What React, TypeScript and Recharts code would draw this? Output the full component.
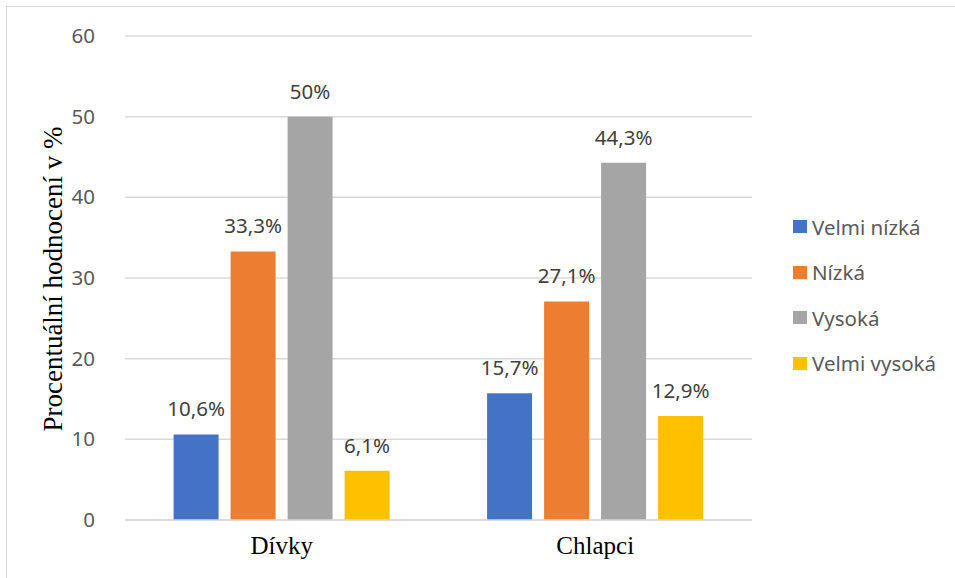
import React from 'react';
import { BarChart, Bar, XAxis, YAxis, CartesianGrid, LabelList } from 'recharts';

const groups = ['Dívky', 'Chlapci'];
const levels = ['Velmi nízká', 'Nízká', 'Vysoká', 'Velmi vysoká'];
const colors = ['#4472c4', '#ed7d31', '#a5a5a5', '#ffc000'];
const velmiNizka = [10.6, 15.7];
const nizka = [33.3, 27.1];
const vysoka = [50, 44.3];
const velmiVysoka = [6.1, 12.9];
const yTicks = [0, 10, 20, 30, 40, 50, 60];

const seriesValues = [velmiNizka, nizka, vysoka, velmiVysoka];
const data = groups.map((g, i) => {
  const row: Record<string, string | number> = { group: g };
  levels.forEach((l, j) => {
    row[l] = seriesValues[j][i];
  });
  return row;
});

const sans = '"Noto Sans", "Open Sans", sans-serif';
const serif = '"Liberation Serif", "DejaVu Serif", serif';

const fmt = (v: number) => String(v).replace('.', ',') + '%';

const YTick = (props: any) => {
  const { x, y, payload } = props;
  return (
    <text x={x - 22} y={y} dy={7} textAnchor="end" fill="#595959" fontSize={20.5} fontFamily={sans}>
      {payload.value}
    </text>
  );
};

const XTick = (props: any) => {
  const { x, y, payload } = props;
  return (
    <text x={x} y={y} dy={26} textAnchor="middle" fill="#000" fontSize={25} fontFamily={serif}>
      {payload.value}
    </text>
  );
};

const YTitle = () => (
  <text
    x={0}
    y={0}
    transform="translate(62, 279) rotate(-90)"
    textAnchor="middle"
    fill="#000"
    fontSize={27}
    fontFamily={serif}
  >
    Procentuální hodnocení v %
  </text>
);

// legend drawn beside the chart so it does not shrink the plot area
const LegendBox = () => (
  <div
    style={{
      position: 'absolute',
      left: 793,
      top: 204,
      fontFamily: sans,
      fontSize: 20.5,
      color: '#595959',
    }}
  >
    {levels.map((l, i) => (
      <div key={l} style={{ display: 'flex', alignItems: 'center', height: 45.5, whiteSpace: 'nowrap' }}>
        <span style={{ width: 14, height: 13, background: colors[i], marginRight: 5, display: 'inline-block' }} />
        <span>{l}</span>
      </div>
    ))}
  </div>
);

export default function App() {
  return (
    <div style={{ position: 'fixed', left: 0, top: 0, width: 955, height: 578, overflow: 'hidden', background: '#fff' }}>
      <div
        style={{
          position: 'absolute',
          left: 6,
          top: 6,
          width: 980,
          height: 600,
          border: '1.5px solid #d9d9d9',
        }}
      />
      <div style={{ position: 'absolute', left: 0, top: 0 }}>
        <BarChart
          width={955}
          height={578}
          data={data}
          margin={{ top: 36, right: 203, bottom: 28, left: 0 }}
          barGap={12}
          barCategoryGap="15.5%"
        >
          <CartesianGrid vertical={false} stroke="#d9d9d9" strokeWidth={1.5} />
          <XAxis
            dataKey="group"
            height={30}
            axisLine={{ stroke: '#d9d9d9', strokeWidth: 1.5 }}
            tickLine={false}
            tick={<XTick />}
          />
          <YAxis
            width={125}
            domain={[0, 60]}
            ticks={yTicks}
            axisLine={false}
            tickLine={false}
            tick={<YTick />}
            label={<YTitle />}
          />
          {levels.map((l, i) => (
            <Bar key={l} dataKey={l} fill={colors[i]} isAnimationActive={false}>
              <LabelList
                dataKey={l}
                position="top"
                offset={18}
                formatter={(v: any) => fmt(Number(v))}
                fill="#404040"
                fontSize={20.5}
                fontFamily={sans}
              />
            </Bar>
          ))}
        </BarChart>
      </div>
      <LegendBox />
    </div>
  );
}
